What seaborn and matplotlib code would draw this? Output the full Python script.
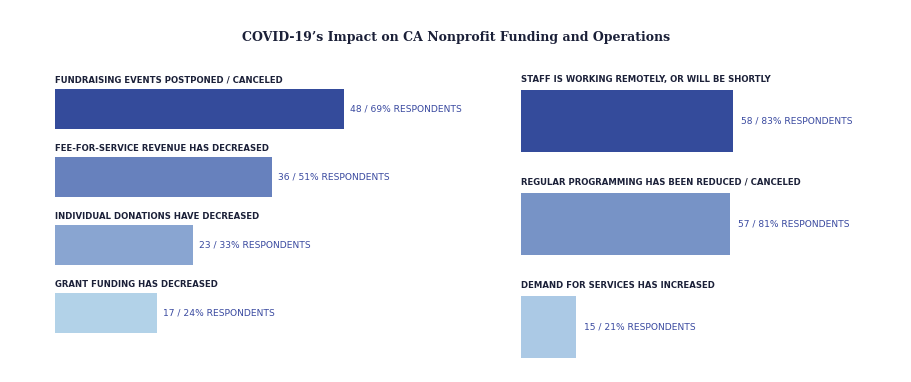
import matplotlib
matplotlib.use("Agg")
import matplotlib.pyplot as plt
import seaborn as sns
import pandas as pd

# ---- data ----
left_labels = ["FUNDRAISING EVENTS POSTPONED / CANCELED",
               "FEE-FOR-SERVICE REVENUE HAS DECREASED",
               "INDIVIDUAL DONATIONS HAVE DECREASED",
               "GRANT FUNDING HAS DECREASED"]
left_counts = [48, 36, 23, 17]
left_pcts = [69, 51, 33, 24]

right_labels = ["STAFF IS WORKING REMOTELY, OR WILL BE SHORTLY",
                "REGULAR PROGRAMMING HAS BEEN REDUCED / CANCELED",
                "DEMAND FOR SERVICES HAS INCREASED"]
right_counts = [58, 57, 15]
right_pcts = [83, 81, 21]

title = "COVID-19\u2019s Impact on CA Nonprofit Funding and Operations"

left_colors = ["#344b9b", "#6781bd", "#89a5d1", "#b2d2e8"]
right_colors = ["#344b9b", "#7793c6", "#abc9e5"]

sns.set_theme(style="white")
plt.rcParams['font.family'] = ['DejaVu Sans']

W, H = 912, 382
fig = plt.figure(figsize=(W / 100, H / 100), dpi=100)
fig.patch.set_facecolor("white")

def px_axes(x0, y_top, w, h):
    return fig.add_axes([x0 / W, 1 - (y_top + h) / H, w / W, h / H])

label_color = "#1b2038"
value_color = "#3a4aa0"

def panel(ax, labels, counts, pcts, colors, px_per_unit, width_px, bar_w, gap_px):
    df = pd.DataFrame({"label": labels, "count": counts})
    sns.barplot(data=df, x="count", y="label", hue="label", palette=colors,
                orient="h", width=bar_w, legend=False, ax=ax,
                saturation=1, edgecolor="none")
    ax.set_xlim(0, width_px / px_per_unit)
    ax.set_ylim(len(labels) - 0.5, -0.5)
    ax.axis("off")
    for i, (lab, c, p) in enumerate(zip(labels, counts, pcts)):
        ax.text(0.0, i - bar_w / 2 - 0.06, lab, ha="left", va="bottom",
                fontsize=6.15, fontweight="bold", color=label_color, clip_on=False)
        ax.text(c + gap_px / px_per_unit, i, f"{c} / {p}% RESPONDENTS",
                ha="left", va="center", fontsize=6.6, color=value_color, clip_on=False)

# left panel: bars centered 109..313, spacing 68 px
axL = px_axes(55, 75, 300, 272)
panel(axL, left_labels, left_counts, left_pcts, left_colors, 6.02, 300, 0.59, 6)

# right panel: bars centered 121..327, spacing 103 px
axR = px_axes(521, 69.5, 300, 309)
panel(axR, right_labels, right_counts, right_pcts, right_colors, 3.66, 300, 0.6, 8)

fig.text(456 / W, 1 - 37 / H, title, ha="center", va="center",
         fontsize=9.0, fontweight="bold", family="DejaVu Serif", color="#1b2038")

fig.savefig("out.png", dpi=100, facecolor="white")
